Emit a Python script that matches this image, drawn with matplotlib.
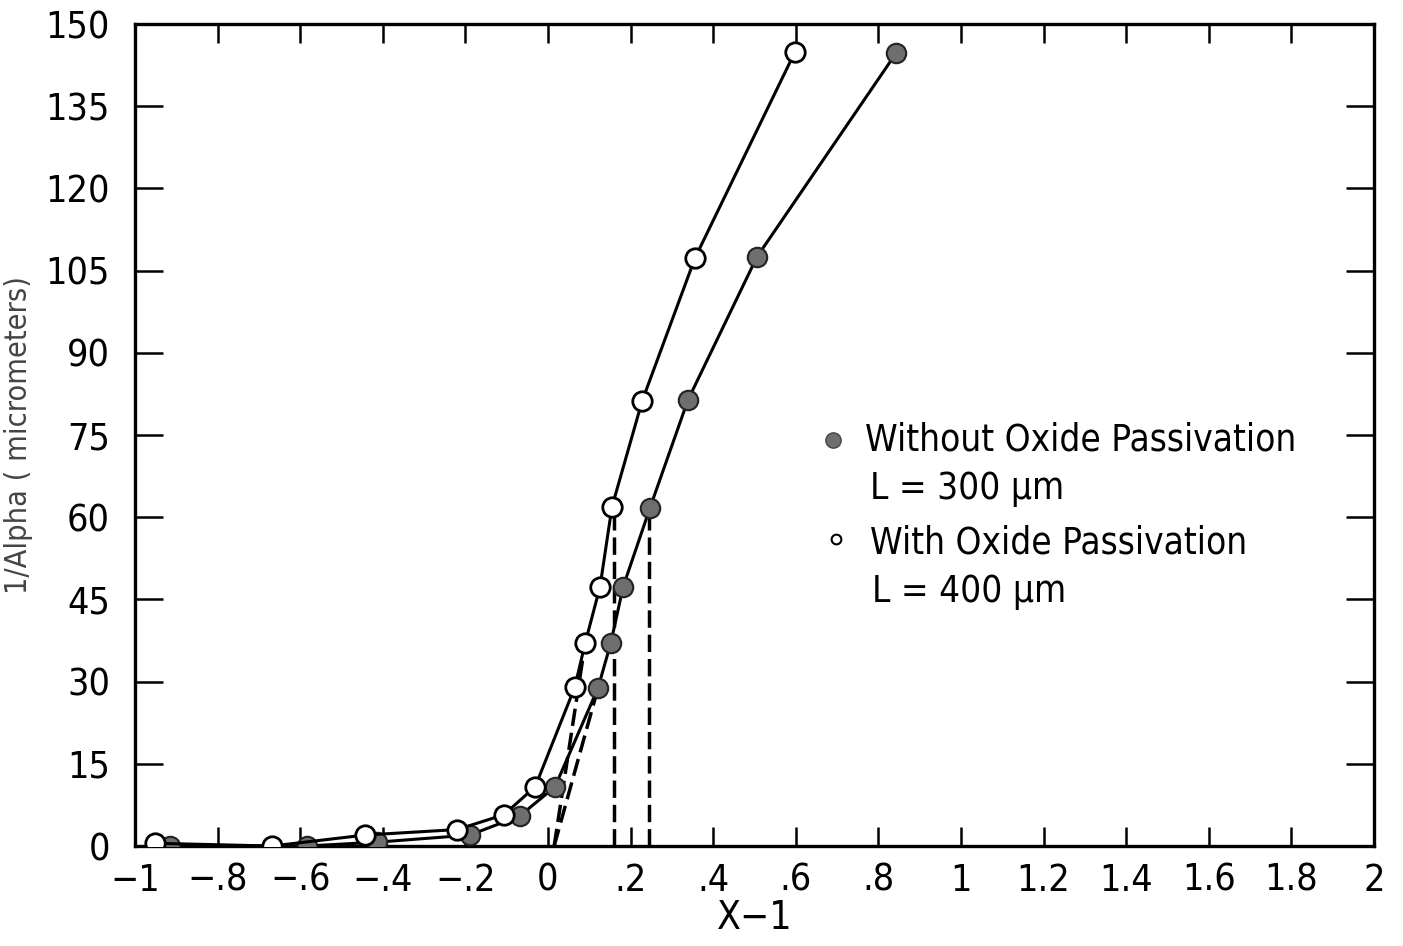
import matplotlib
matplotlib.use("Agg")
import matplotlib.pyplot as plt

plt.rcParams['font.family'] = ['DejaVu Sans']
plt.rcParams['font.stretch'] = 'condensed'

# ---- data ----
# without oxide passivation (filled markers), L = 300 um
x_without = [-0.915, -0.584, -0.414, -0.189, -0.068, 0.017, 0.121, 0.152, 0.182, 0.247, 0.339, 0.506, 0.843]
y_without = [0.0, 0.0, 0.7, 2.0, 5.5, 10.8, 28.8, 37.0, 47.3, 61.7, 81.4, 107.5, 144.7]

# with oxide passivation (open markers), L = 400 um
x_with = [-0.952, -0.668, -0.443, -0.220, -0.107, -0.031, 0.065, 0.090, 0.126, 0.155, 0.228, 0.356, 0.598]
y_with = [0.5, 0.0, 2.0, 3.0, 5.7, 10.8, 29.0, 37.0, 47.3, 61.9, 81.2, 107.3, 144.9]

# dashed construction lines (tangent extrapolation and drop lines)
tangent_with_x = [0.015, 0.090]
tangent_with_y = [0.0, 37.0]
tangent_without_x = [0.015, 0.121]
tangent_without_y = [0.0, 28.8]
drop_x = [0.160, 0.245]
drop_top = [61.9, 61.7]

xticks = [-1, -0.8, -0.6, -0.4, -0.2, 0, 0.2, 0.4, 0.6, 0.8, 1, 1.2, 1.4, 1.6, 1.8, 2]
xticklabels = ["\u22121", "\u2212.8", "\u2212.6", "\u2212.4", "\u2212.2", "0", ".2", ".4", ".6", ".8",
               "1", "1.2", "1.4", "1.6", "1.8", "2"]
yticks = list(range(0, 151, 15))

fig = plt.figure(figsize=(14.03, 9.46), dpi=100)
ax = fig.add_axes([0.0962, 0.1057, 0.8831, 0.8689])

# dashed lines behind the data
dash = dict(color="black", linestyle=(0, (5, 2)), linewidth=2.5, zorder=2)
ax.plot(tangent_with_x, tangent_with_y, **dash)
ax.plot(tangent_without_x, tangent_without_y, **dash)
for xd, yt in zip(drop_x, drop_top):
    ax.plot([xd, xd], [0, yt], **dash)

ax.plot(x_without, y_without, color="black", linewidth=2.2, marker="o", markersize=14,
        markerfacecolor="#6e6e6e", markeredgecolor="#222222", markeredgewidth=1.5, zorder=3)
ax.plot(x_with, y_with, color="black", linewidth=2.2, marker="o", markersize=14,
        markerfacecolor="white", markeredgecolor="black", markeredgewidth=2.0, zorder=4)

ax.set_xlim(-1, 2)
ax.set_ylim(0, 150)
ax.set_xticks(xticks)
ax.set_xticklabels(xticklabels)
ax.set_yticks(yticks)

for s in ax.spines.values():
    s.set_linewidth(2.4)

ax.tick_params(axis="x", direction="in", length=14, width=1.8, labelsize=27, pad=12,
               top=True, bottom=True)
ax.tick_params(axis="y", direction="in", length=20, width=1.8, labelsize=27, pad=18,
               left=True, right=True)

ax.set_xlabel("X\u22121", fontsize=28, labelpad=0)
ax.set_ylabel("1/Alpha ( micrometers)", fontsize=22, color="#444444")
ax.yaxis.set_label_coords(-0.082, 0.5)

# legend drawn as text, like the original
ax.plot([0.690], [74.1], marker="o", markersize=11, markerfacecolor="#6e6e6e",
        markeredgecolor="#444444", linestyle="none", clip_on=False)
ax.text(0.768, 74.1, "Without Oxide Passivation", fontsize=26.5, va="center", ha="left")
ax.text(0.780, 65.3, "L = 300 \u03bcm", fontsize=26.5, va="center", ha="left")
ax.plot([0.697], [56.0], marker="o", markersize=7, markerfacecolor="white",
        markeredgecolor="black", markeredgewidth=1.5, linestyle="none", clip_on=False)
ax.text(0.780, 55.3, "With Oxide Passivation", fontsize=26.5, va="center", ha="left")
ax.text(0.785, 46.5, "L = 400 \u03bcm", fontsize=26.5, va="center", ha="left")

fig.savefig("out.png", dpi=100)
